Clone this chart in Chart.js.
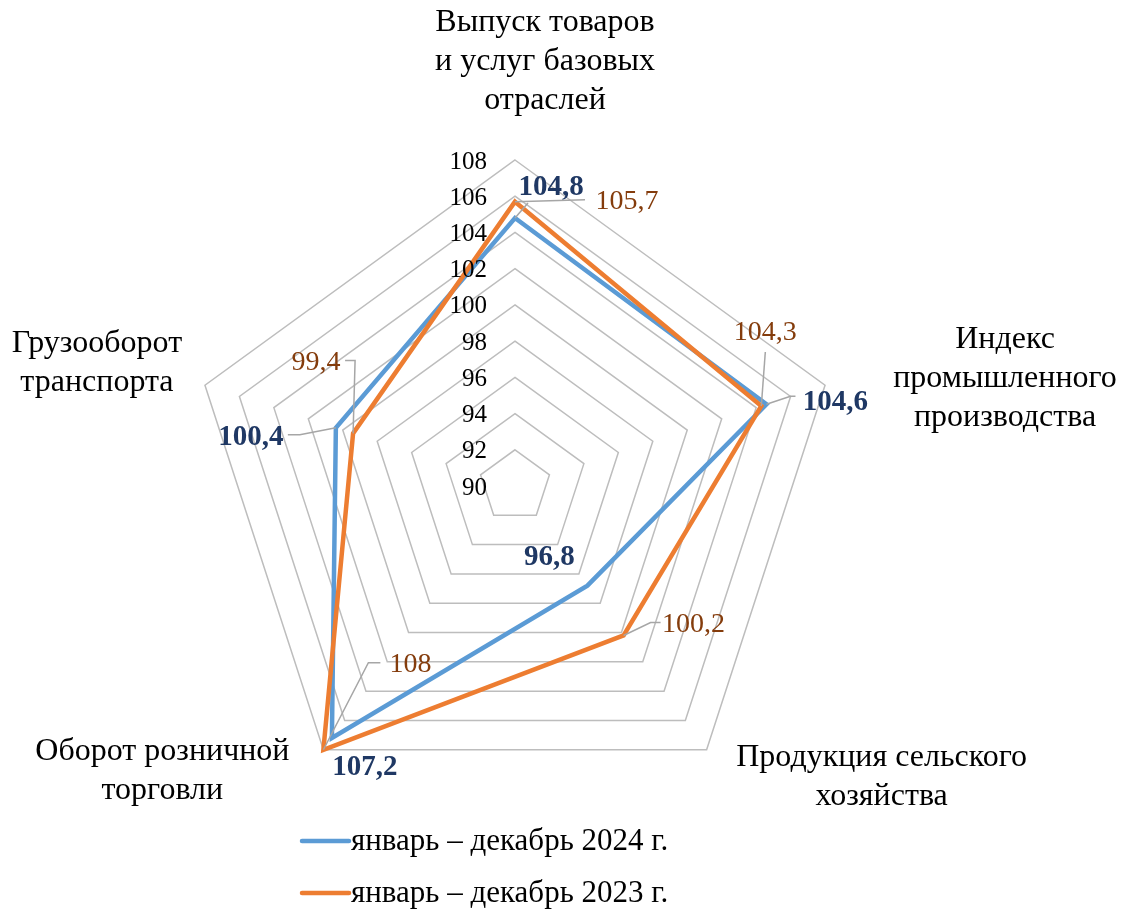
<!DOCTYPE html>
<html>
<head>
<meta charset="utf-8">
<script src="https://cdn.jsdelivr.net/npm/chart.js@4"></script>
<style>
  html, body { margin: 0; padding: 0; background: #fff; }
  canvas { display: block; }
</style>
</head>
<body>
<canvas id="radarChart" width="1126" height="914"></canvas>
<script>
// data
const categories = [
  ['Выпуск товаров', 'и услуг базовых', 'отраслей'],
  ['Индекс', 'промышленного', 'производства'],
  ['Продукция сельского', 'хозяйства'],
  ['Оборот розничной', 'торговли'],
  ['Грузооборот', 'транспорта']
];
const values2024 = [104.8, 104.6, 96.8, 107.2, 100.4];
const values2023 = [105.7, 104.3, 100.2, 108, 99.4];
const seriesNames = ['январь – декабрь 2024 г.', 'январь – декабрь 2023 г.'];
const tickMin = 90;
const tickMax = 108;
const tickStep = 2;

const FONT = "'Liberation Serif', 'Times New Roman', serif";
const BLUE = '#5b9bd5';
const ORANGE = '#ed7d31';

// where category labels sit, relative to the outer vertex
const catOffsets = [[30, -137], [180, -46], [175, 8], [-161, 2], [-108, -42]];

// label offset from its point + leader path (relative to point)
const labelSpots = [
  { // 2024
    color: '#1f3864', bold: true, size: 29,
    spots: [
      { dx: 36, dy: -30, lead: [[0, 0], [13, -15]] },
      { dx: 69, dy: -2, lead: [[0, 0], [24, -8], [29, -8]] },
      { dx: -38, dy: -28, lead: null },
      { dx: 33, dy: 29, lead: null },
      { dx: -85, dy: 10, lead: [[0, 0], [-36, 7], [-48, 7]] }
    ]
  },
  { // 2023
    color: '#843c0c', bold: false, size: 28,
    spots: [
      { dx: 112, dy: 0, lead: [[0, 0], [70, -2]] },
      { dx: 4, dy: -73, lead: [[0, 0], [4, -54]] },
      { dx: 70, dy: -11, lead: [[0, 0], [27, -13], [37, -13]] },
      { dx: 87, dy: -85, lead: [[0, 0], [45, -87], [57, -87]] },
      { dx: -37, dy: -71, lead: [[0, 0], [2, -73], [-8, -73]] }
    ]
  }
];

function fmt(v) {
  return String(v).replace('.', ',');
}

const decorPlugin = {
  id: 'decor',
  afterDatasetsDraw(chart) {
    const ctx = chart.ctx;
    const scale = chart.scales.r;

    // tick labels left of the top axis
    ctx.save();
    ctx.font = '25px ' + FONT;
    ctx.fillStyle = '#000';
    ctx.textAlign = 'right';
    ctx.textBaseline = 'middle';
    scale.ticks.forEach(t => {
      const y = scale.yCenter - scale.getDistanceFromCenterForValue(t.value);
      ctx.fillText(String(t.value), scale.xCenter - 28, y + 2);
    });
    ctx.restore();

    // category labels
    ctx.save();
    ctx.font = '32px ' + FONT;
    ctx.fillStyle = '#000';
    ctx.textAlign = 'center';
    ctx.textBaseline = 'middle';
    categories.forEach((lines, i) => {
      const p = scale.getPointPositionForValue(i, tickMax);
      const [ox, oy] = catOffsets[i];
      lines.forEach((ln, k) => {
        ctx.fillText(ln, p.x + ox, p.y + oy + k * 39);
      });
    });
    ctx.restore();

    // data labels with leader lines
    [values2024, values2023].forEach((vals, s) => {
      const spec = labelSpots[s];
      vals.forEach((v, i) => {
        const p = scale.getPointPositionForValue(i, v);
        const sp = spec.spots[i];
        if (sp.lead) {
          ctx.save();
          ctx.strokeStyle = '#a6a6a6';
          ctx.lineWidth = 1.5;
          ctx.beginPath();
          sp.lead.forEach(([lx, ly], k) => {
            if (k === 0) ctx.moveTo(p.x + lx, p.y + ly);
            else ctx.lineTo(p.x + lx, p.y + ly);
          });
          ctx.stroke();
          ctx.restore();
        }
        ctx.save();
        ctx.font = (spec.bold ? 'bold ' : '') + spec.size + 'px ' + FONT;
        ctx.fillStyle = spec.color;
        ctx.textAlign = 'center';
        ctx.textBaseline = 'middle';
        ctx.fillText(fmt(v), p.x + sp.dx, p.y + sp.dy);
        ctx.restore();
      });
    });

    // legend
    const colors = [BLUE, ORANGE];
    ctx.save();
    ctx.font = '31px ' + FONT;
    ctx.textAlign = 'left';
    ctx.textBaseline = 'middle';
    seriesNames.forEach((name, k) => {
      const y = 841 + k * 52;
      ctx.strokeStyle = colors[k];
      ctx.lineWidth = 4.5;
      ctx.lineCap = 'round';
      ctx.beginPath();
      ctx.moveTo(302, y);
      ctx.lineTo(349, y);
      ctx.stroke();
      ctx.fillStyle = '#000';
      ctx.fillText(name, 351, y + 1);
    });
    ctx.restore();
  }
};

new Chart(document.getElementById('radarChart'), {
  type: 'radar',
  data: {
    labels: categories,
    datasets: [
      {
        label: seriesNames[0],
        data: values2024,
        borderColor: BLUE,
        borderWidth: 4.5,
        fill: false,
        pointRadius: 0,
        tension: 0,
        order: 1
      },
      {
        label: seriesNames[1],
        data: values2023,
        borderColor: ORANGE,
        borderWidth: 4.5,
        fill: false,
        pointRadius: 0,
        tension: 0,
        order: 0
      }
    ]
  },
  options: {
    responsive: false,
    animation: false,
    layout: {
      padding: { left: 189, right: 285, top: 160, bottom: 102 }
    },
    plugins: {
      legend: { display: false },
      tooltip: { enabled: false }
    },
    scales: {
      r: {
        min: tickMin,
        max: tickMax,
        ticks: { stepSize: tickStep, display: false },
        grid: { color: '#bdbdbd', lineWidth: 1.5 },
        angleLines: { display: false },
        pointLabels: { display: false }
      }
    }
  },
  plugins: [decorPlugin]
});
</script>
</body>
</html>
